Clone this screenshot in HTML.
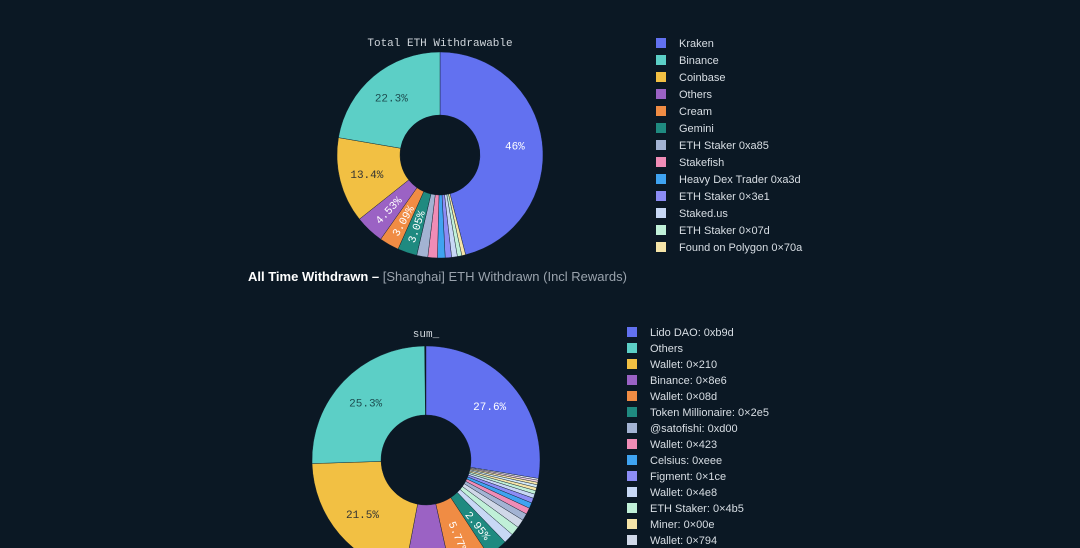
<!DOCTYPE html>
<html><head><meta charset="utf-8"><style>
html,body{margin:0;padding:0;background:#0b1824;width:1080px;height:548px;overflow:hidden}
svg{display:block}
</style></head><body>
<svg id="s" width="1080" height="548" xmlns="http://www.w3.org/2000/svg" font-family="Liberation Sans, sans-serif">
<rect width="1080" height="548" fill="#0b1824"/>
<text x="440" y="46" text-anchor="middle" fill="#d0d6dc" font-family="Liberation Mono, monospace" font-size="11">Total ETH Withdrawable</text>
<text x="426" y="337" text-anchor="middle" fill="#d0d6dc" font-family="Liberation Mono, monospace" font-size="11">sum_</text>
<text x="248" y="281" font-size="13" fill="#ffffff" font-weight="bold">All Time Withdrawn – <tspan fill="#9aa3ad" font-weight="normal">[Shanghai] ETH Withdrawn (Incl Rewards)</tspan></text>
<g id="c1"></g><g id="c2"></g><g id="l1"></g><g id="l2"></g>
</svg>
<script>
var NS="http://www.w3.org/2000/svg";
function el(p,t,a,txt){var e=document.createElementNS(NS,t);for(var k in a)e.setAttribute(k,a[k]);if(txt)e.textContent=txt;p.appendChild(e);return e;}
function arc(cx,cy,r,R,a0,a1){function pt(rr,a){var t=a*Math.PI/180;return [cx+rr*Math.sin(t),cy-rr*Math.cos(t)];}
var l=(a1-a0)>180?1:0;var p1=pt(R,a0),p2=pt(R,a1),p3=pt(r,a1),p4=pt(r,a0);
return "M"+p1+"A"+R+","+R+" 0 "+l+" 1 "+p2+"L"+p3+"A"+r+","+r+" 0 "+l+" 0 "+p4+"Z";}
function pie(g,cx,cy,r,R,sl){var a=0;sl.forEach(function(s){var a1=a+s[0]*3.6;
el(g,"path",{d:arc(cx,cy,r,R,a,a1),fill:s[1],stroke:"#0b1824","stroke-width":"0.4"});
if(s[2]){var md=(a+a1)/2,m=md*Math.PI/180,rr=(r+R)/2+4;var x=cx+rr*Math.sin(m),y=cy-rr*Math.cos(m);
var at={x:x,y:y+4,"text-anchor":"middle",fill:s[3]||"#ffffff","font-family":"Liberation Mono, monospace","font-size":"11"};
if(s[4]){at.transform="rotate("+(md>180?md-270:md-90)+" "+x+" "+y+")";}
el(g,"text",at,s[2]);}
a=a1;});}
var C={k:"#6271f0",b:"#5ccfc6",y:"#f2c043",p:"#9b62c4",o:"#f08c44",t:"#1f8a80",g:"#a3b3d3",pk:"#f08cb6",bl:"#3fa3f0",lv:"#8c8cf5",lb:"#c8d8f5",mt:"#c0f0d8",cr:"#f5e4a8"};
pie(document.getElementById("c1"),440,155,40,103,[
[46,C.k,"46%"],[0.6,C.cr],[0.7,C.mt],[0.9,C.lb],[1.0,C.lv],[1.2,C.bl],[1.5,C.pk],[1.73,C.g],
[3.05,C.t,"3.05%",0,1],[3.09,C.o,"3.09%",0,1],[4.53,C.p,"4.53%",0,1],[13.4,C.y,"13.4%","#333"],[22.3,C.b,"22.3%","#1d4d50"]]);
pie(document.getElementById("c2"),426,460,45,114,[
[27.6,C.k,"27.6%"],[0.25,"#e8e8f0"],[0.3,"#f0d0e0"],[0.35,C.cr],[0.4,"#d0e8f8"],[0.45,C.cr],[0.5,C.mt],[0.6,C.lb],[0.7,C.lv],[0.8,C.bl],[0.9,C.pk],[1.0,C.g],[1.2,"#d0d8e8"],[1.3,C.mt],[1.45,C.lb],
[2.95,C.t,"2.95%",0,1],[5.77,C.o,"5.77%",0,1],[6.48,C.p,""],[21.5,C.y,"21.5%","#333"],[25.3,C.b,"25.3%","#1d4d50"]]);
function leg(g,x,y,dy,items){items.forEach(function(it,i){el(g,"rect",{x:x,y:y+i*dy-5,width:10,height:10,fill:it[1]});
el(g,"text",{x:x+23,y:y+i*dy+4,fill:"#d8dee4","font-size":"11"},it[0]);});}
leg(document.getElementById("l1"),656,43,17,[["Kraken",C.k],["Binance",C.b],["Coinbase",C.y],["Others",C.p],["Cream",C.o],["Gemini",C.t],["ETH Staker 0xa85",C.g],["Stakefish",C.pk],["Heavy Dex Trader 0xa3d",C.bl],["ETH Staker 0×3e1",C.lv],["Staked.us",C.lb],["ETH Staker 0×07d",C.mt],["Found on Polygon 0×70a",C.cr]]);
leg(document.getElementById("l2"),627,332,16,[["Lido DAO: 0xb9d",C.k],["Others",C.b],["Wallet: 0×210",C.y],["Binance: 0×8e6",C.p],["Wallet: 0×08d",C.o],["Token Millionaire: 0×2e5",C.t],["@satofishi: 0xd00",C.g],["Wallet: 0×423",C.pk],["Celsius: 0xeee",C.bl],["Figment: 0×1ce",C.lv],["Wallet: 0×4e8",C.lb],["ETH Staker: 0×4b5",C.mt],["Miner: 0×00e",C.cr],["Wallet: 0×794","#d0d8e8"]]);
</script>
</body></html>
